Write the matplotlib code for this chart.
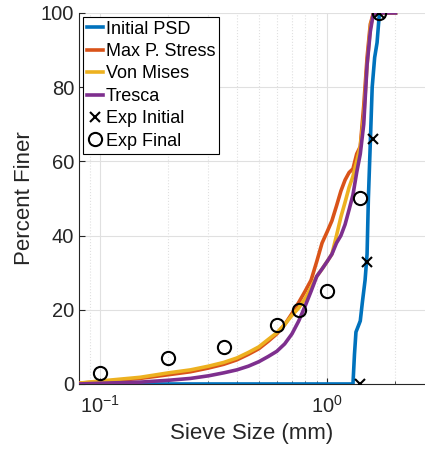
import numpy as np
import matplotlib
matplotlib.use("Agg")
from matplotlib import pyplot as plt
from matplotlib.ticker import LogLocator, NullFormatter

plt.rcParams['font.family'] = ['Liberation Sans', 'DejaVu Sans']
plt.rcParams['mathtext.fontset'] = 'custom'
plt.rcParams['mathtext.rm'] = 'Liberation Sans'
plt.rcParams['mathtext.it'] = 'Liberation Sans'

# sieve sizes (mm) for the simulated curves
size = [0.08, 0.1, 0.15, 0.2, 0.25, 0.3, 0.35, 0.4, 0.45, 0.5, 0.55, 0.6, 0.65, 0.7,
        0.75, 0.8, 0.85, 0.9, 0.95, 1.0, 1.05, 1.1, 1.15, 1.2, 1.25, 1.3, 1.35, 1.4,
        1.45, 1.5, 1.55, 1.6, 1.7, 2.0]
max_p = [0.2, 0.6, 1.5, 2.5, 3.3, 4.3, 5.3, 6.5, 8.0, 9.5, 11.5, 13.5, 16, 19,
         22, 25, 28, 33, 38, 41, 44, 48, 52, 55, 57, 58, 62, 64,
         75, 88, 97, 100, 100, 100]
von_mises = [0.2, 0.8, 1.8, 3.0, 3.8, 4.8, 5.8, 7.0, 8.5, 10, 12, 13.8, 16, 18.5,
             20.5, 23, 26, 29, 31, 33, 35, 40, 45, 49, 53, 56, 60, 64,
             72, 86, 96, 100, 100, 100]
tresca = [0.0, 0.2, 0.5, 1.0, 1.5, 2.2, 3.0, 3.8, 4.8, 6.0, 7.4, 8.8, 10.8, 13.5,
          17, 21, 25, 29, 31, 33, 35, 38, 40, 43, 47, 51, 57, 62,
          70, 86, 95, 100, 100, 100]

# initial PSD
init_size = [0.08, 1.30, 1.32, 1.34, 1.38, 1.40, 1.43, 1.47, 1.50, 1.52, 1.55,
             1.58, 1.62, 1.66, 1.70, 2.0]
init_psd = [0, 0, 8, 14, 16, 17, 22, 28, 35, 50, 65, 80, 88, 92, 100, 100]

# experiments
exp_init_x = [1.4, 1.5, 1.6, 1.7]
exp_init_y = [0, 33, 66, 100]
exp_final_x = [0.1, 0.2, 0.35, 0.6, 0.75, 1.0, 1.4, 1.7]
exp_final_y = [3, 7, 10, 16, 20, 25, 50, 100]

fig = plt.figure(figsize=(4.25, 4.51), dpi=100)
ax = fig.add_axes([0.186, 0.1486, 0.814, 0.8226])

lw = 2.6
ax.plot(init_size, init_psd, color='#0072BD', lw=lw, label='Initial PSD', zorder=3)
ax.plot(size, max_p, color='#D95319', lw=lw, label='Max P. Stress', zorder=3)
ax.plot(size, von_mises, color='#EDB120', lw=lw, label='Von Mises', zorder=3)
ax.plot(size, tresca, color='#7E2F8E', lw=lw, label='Tresca', zorder=3)
ax.plot(exp_init_x, exp_init_y, 'x', color='k', ms=6.5, mew=1.5, label='Exp Initial',
        zorder=4)
ax.plot(exp_final_x, exp_final_y, 'o', mfc='none', mec='k', ms=9.5, mew=1.5,
        label='Exp Final', zorder=4)

ax.set_xscale('log')
ax.set_xlim(0.0807, 2.7)
ax.set_ylim(0, 100)
ax.set_yticks([0, 20, 40, 60, 80, 100])
ax.xaxis.set_major_locator(LogLocator(base=10))
ax.xaxis.set_minor_locator(LogLocator(base=10, subs=np.arange(2, 10)))
ax.xaxis.set_minor_formatter(NullFormatter())

ax.grid(True, which='major', color='#e0e0e0', lw=0.8)
ax.grid(True, which='minor', axis='x', color='#e0e0e0', lw=0.8, ls=':')
ax.set_axisbelow(True)

for s in ['top', 'right']:
    ax.spines[s].set_visible(False)
for s in ['left', 'bottom']:
    ax.spines[s].set_color('#262626')
    ax.spines[s].set_linewidth(0.8)

ax.tick_params(which='both', direction='in', colors='#262626', labelsize=14.5,
               length=4)
ax.tick_params(which='minor', length=2)
ax.tick_params(axis='x', pad=8)

ax.set_xlabel('Sieve Size (mm)', fontsize=16, color='#262626')
ax.set_ylabel('Percent Finer', fontsize=16, color='#262626')

leg = ax.legend(loc='upper left', fontsize=13, handlelength=0.9, handletextpad=0.15,
                borderaxespad=0.2, borderpad=0.22, labelspacing=0.3, fancybox=False,
                framealpha=1, edgecolor='k')
leg.get_frame().set_linewidth(0.8)

plt.savefig('out.png', dpi=100)
